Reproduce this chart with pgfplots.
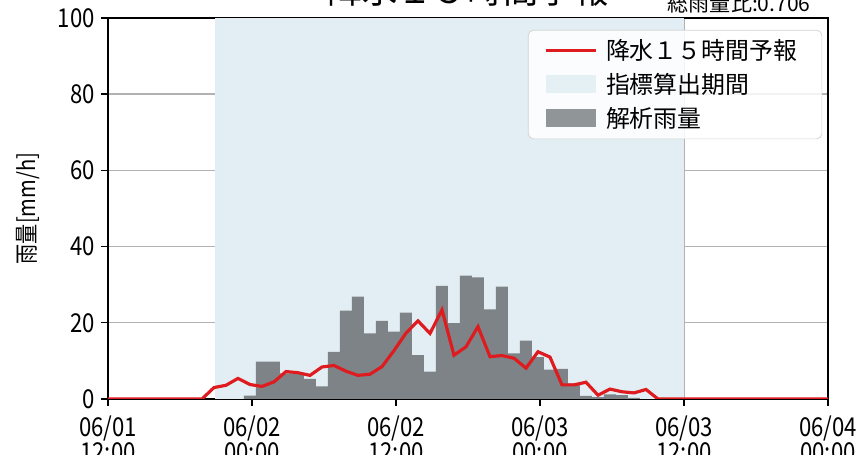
\documentclass[border=0pt]{standalone}
\usepackage{fontspec}
\setmainfont{Noto Sans CJK JP}
\newfontfamily\tickfont{Noto Sans CJK JP}[FakeStretch=0.85]
\usepackage{pgfplots}
\pgfplotsset{compat=1.18}
\definecolor{fcred}{RGB}{222,28,32}
\definecolor{shadeblue}{RGB}{226,238,244}
\definecolor{bargray}{RGB}{126,131,135}
\definecolor{gridgray}{RGB}{178,178,178}
\pgfplotsset{
  longline legend/.style={legend image code/.code={\draw[##1, sharp corners] (0cm,0cm) -- (1cm,0cm);}},
  patch legend/.style={legend image code/.code={\fill[##1, draw=none, sharp corners] (0cm,-0.17cm) rectangle (1cm,0.19cm);}},
}

\begin{document}
\begin{tikzpicture}
\begin{axis}[
  scale only axis, width=14.4cm, height=7.62cm,
  xmin=0, xmax=60, ymin=0, ymax=100,
  xtick={0,12,24,36,48,60},
  xticklabels={{06/01\\12:00},{06/02\\00:00},{06/02\\12:00},{06/03\\00:00},{06/03\\12:00},{06/04\\00:00}},
  ytick={0,20,40,60,80,100},
  yticklabels={0,20,40,60,80,100},
  tick pos=left, tick align=outside, major tick length=0.14cm,
  every tick/.style={black, line width=0.8pt},
  xticklabel style={align=center, yshift=-0.08cm, font=\tickfont\fontsize{14.8}{14.2}\selectfont},
  yticklabel style={font=\tickfont\fontsize{14.8}{14.2}\selectfont},
  grid=major, grid style={gridgray, line width=0.8pt},
  axis line style={black, line width=0.85pt},
  ylabel={雨量[mm/h]},
  every axis y label/.style={at={(axis description cs:-0.111,0.5)}, anchor=center, rotate=90,
    font=\tickfont\fontsize{13.5}{14}\selectfont},
  legend style={at={(0.992,0.969)}, anchor=north east, draw=gray!35, rounded corners=3pt,
    fill=white, fill opacity=0.85, text opacity=1, font=\fontsize{13.6}{15}\selectfont,
    row sep=2.5pt, inner xsep=9pt, inner ysep=3pt,
    nodes={inner xsep=5pt}},
  legend cell align=left,
]
% index period
\addplot[draw=none, fill=shadeblue, forget plot] coordinates {(8.9,100) (48,100)} \closedcycle;

% analysed rainfall, hourly bars (left edges)
\addplot[ybar interval, fill=bargray, draw=none, forget plot] coordinates {
 (11.333,0.9) (12.333,9.8) (13.333,9.8) (14.333,6.7) (15.333,6.5) (16.333,5.3) (17.333,3.3)
 (18.333,12.4) (19.333,23.2) (20.333,26.9) (21.333,17.2) (22.333,20.5) (23.333,17.7)
 (24.333,22.7) (25.333,11.5) (26.333,7.2) (27.333,29.7) (28.333,19.9) (29.333,32.4)
 (30.333,31.9) (31.333,23.5) (32.333,29.5) (33.333,12.0) (34.333,15.3) (35.333,11.0)
 (36.333,7.7) (37.333,7.9) (38.333,4.1) (39.333,0.8) (40.333,0.5) (41.333,1.2)
 (42.333,1.0) (43.333,0.3) (44.333,0)
};

% 15h forecast
\addplot[fcred, line width=1.8pt, forget plot] coordinates {
 (0,0) (7.833,0) (8.833,3.0) (9.833,3.6) (10.833,5.4) (11.833,3.8) (12.833,3.3)
 (13.833,4.5) (14.833,7.2) (15.833,6.9) (16.833,6.2) (17.833,8.4) (18.833,8.8)
 (19.833,7.3) (20.833,6.2) (21.833,6.5) (22.833,8.5) (23.833,12.7) (24.833,17.3)
 (25.833,20.5) (26.833,17.2) (27.833,23.4) (28.833,11.5) (29.833,13.7) (30.833,19.0)
 (31.833,11.1) (32.833,11.4) (33.833,10.7) (34.833,8.1) (35.833,12.4) (36.833,11.0)
 (37.833,3.7) (38.833,3.7) (39.833,4.4) (40.833,1.0) (41.833,2.6) (42.833,1.9)
 (43.833,1.6) (44.833,2.5) (45.833,0) (60,0)
};

\addlegendimage{longline legend, fcred, line width=1.8pt}
\addlegendentry{降水１５時間予報}
\addlegendimage{patch legend, fill=shadeblue}
\addlegendentry{指標算出期間}
\addlegendimage{patch legend, fill=bargray}
\addlegendentry{解析雨量}
\end{axis}

\node[anchor=base, font=\fontsize{20}{20}\selectfont] at (7.2cm,7.9cm) {降水１５時間予報};
\node[anchor=base east, inner sep=0pt, font=\fontsize{12}{12}\selectfont] at (14.06cm,7.74cm) {総雨量比:0.706};

\pgfresetboundingbox
\path[use as bounding box] (-2.16cm,-1.12cm) rectangle (15.12cm,7.98cm);
\end{tikzpicture}
\end{document}
